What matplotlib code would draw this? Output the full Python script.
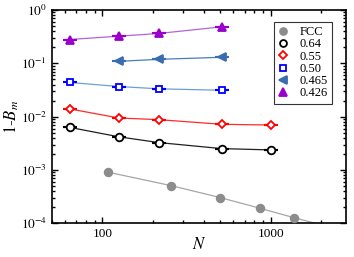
import matplotlib
matplotlib.use("Agg")
import matplotlib.pyplot as plt
from matplotlib.lines import Line2D
from matplotlib.ticker import LogLocator, FuncFormatter, NullFormatter
import numpy as np

plt.rcParams['font.family'] = ['Liberation Serif', 'DejaVu Serif']
plt.rcParams['mathtext.fontset'] = 'stix'

# Data
N_fcc = [108, 256, 500, 864, 1372, 2048]
B_fcc = [9.1e-4, 5.1e-4, 3.05e-4, 1.92e-4, 1.28e-4, 9.2e-5]

N_064 = [64, 125, 216, 512, 1000]
B_064 = [6.3e-3, 4.2e-3, 3.27e-3, 2.52e-3, 2.38e-3]

N_055 = [64, 125, 216, 512, 1000]
B_055 = [1.40e-2, 9.45e-3, 8.8e-3, 7.2e-3, 6.97e-3]

N_050 = [64, 125, 216, 512]
B_050 = [4.38e-2, 3.68e-2, 3.33e-2, 3.13e-2]

N_0465 = [125, 216, 512]
B_0465 = [0.109, 0.119, 0.130]

N_0426 = [64, 125, 216, 512]
B_0426 = [0.28, 0.323, 0.363, 0.484]

labels = ['FCC', '0.64', '0.55', '0.50', '0.465', '0.426']

YMIN, YMAX = 1e-4, 1

fig = plt.figure(figsize=(3.54, 2.57), dpi=100)
ax = fig.add_axes([0.146, 0.131, 0.831, 0.830])

styles = [
    dict(marker='o', mfc='#8c8c8c', mec='#8c8c8c', lc='#a6a6a6', ms=5.5, caps=False),
    dict(marker='o', mfc='white', mec='black', lc='#202020', ms=5.5, caps=True),
    dict(marker='D', mfc='white', mec='#ff0000', lc='#ff2a2a', ms=4.5, caps=True),
    dict(marker='s', mfc='white', mec='#0000ff', lc='#6e9fd4', ms=5.0, caps=True),
    dict(marker='<', mfc='#3a6cb0', mec='#3a6cb0', lc='#4a7bbb', ms=6.0, caps=True),
    dict(marker='^', mfc='#9a00cc', mec='#9a00cc', lc='#b563d9', ms=6.0, caps=True),
]
series = [(N_fcc, B_fcc), (N_064, B_064), (N_055, B_055),
          (N_050, B_050), (N_0465, B_0465), (N_0426, B_0426)]

handles = []
for (x, y), st, lab in zip(series, styles, labels):
    ax.plot(x, y, '-', color=st['lc'], lw=0.9, zorder=2)
    xa, ya = np.array(x, float), np.array(y, float)
    inside = (ya >= YMIN) & (ya <= YMAX)
    if st['caps']:
        ax.errorbar(xa[inside], ya[inside], yerr=np.zeros(inside.sum()), fmt='none',
                    ecolor=st['mec'], capsize=4.8, capthick=1.5, elinewidth=0, zorder=3)
    ax.plot(xa[inside], ya[inside], ls='none', marker=st['marker'], mfc=st['mfc'],
            mec=st['mec'], ms=st['ms'], mew=1.3, zorder=4)
    handles.append(Line2D([], [], ls='none', marker=st['marker'], mfc=st['mfc'],
                          mec=st['mec'], ms=st['ms'] * 0.9, mew=1.3, label=lab))

ax.set_xscale('log')
ax.set_yscale('log')
ax.set_xlim(50, 2800)
ax.set_ylim(YMIN, YMAX)

ax.xaxis.set_major_locator(LogLocator(base=10, numticks=10))
ax.xaxis.set_minor_locator(LogLocator(base=10, subs=np.arange(2, 10), numticks=20))
ax.xaxis.set_major_formatter(FuncFormatter(lambda v, p: '%d' % round(v)))
ax.xaxis.set_minor_formatter(NullFormatter())
ax.yaxis.set_major_locator(LogLocator(base=10, numticks=10))
ax.yaxis.set_minor_locator(LogLocator(base=10, subs=np.arange(2, 10), numticks=20))
ax.yaxis.set_major_formatter(FuncFormatter(lambda v, p: r'$10^{%d}$' % round(np.log10(v))))
ax.yaxis.set_minor_formatter(NullFormatter())

ax.tick_params(which='both', direction='in', top=True, right=True, width=1.0,
               labelsize=9.5)
ax.tick_params(which='major', length=4)
ax.tick_params(which='minor', length=2.2)
for s in ax.spines.values():
    s.set_linewidth(1.2)

ax.set_xlabel(r'$N$', fontsize=12, labelpad=-2)
ax.set_ylabel(r'$1$-$B_m$', fontsize=12, labelpad=0)

leg = ax.legend(handles=handles, loc='upper right', bbox_to_anchor=(0.954, 0.945),
                borderaxespad=0, fontsize=9, frameon=True, fancybox=False,
                handlelength=0.8, handletextpad=0.9, labelspacing=0.02,
                borderpad=0.35, edgecolor='black')
leg.get_frame().set_linewidth(0.8)

fig.savefig('out.png', dpi=100)
